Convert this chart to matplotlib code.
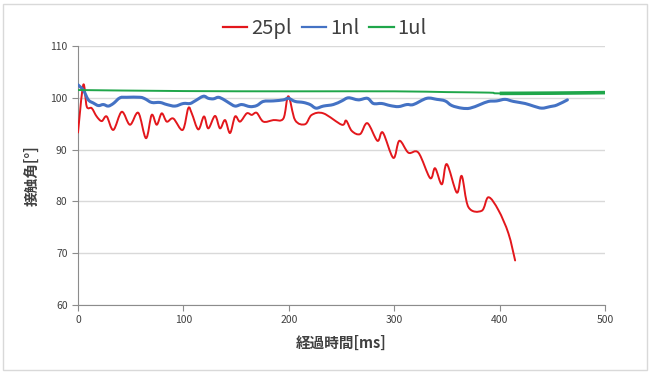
import numpy as np
import matplotlib
matplotlib.use('Agg')
import matplotlib.pyplot as plt
from matplotlib.path import Path
from matplotlib.patches import PathPatch
from matplotlib.lines import Line2D

plt.rcParams['font.family'] = ['Noto Sans CJK JP', 'DejaVu Sans']

# 25pl (red)
t_25pl = [0, 5, 8.3, 13, 17.7, 22.5, 27.2, 33.5, 41.5, 49.3, 57.2, 64.5, 69.9, 74.7,
          79.4, 84.2, 90.4, 99.3, 104.6, 107.9, 114.1, 119.5, 123.6, 130, 134.7, 139.5,
          144.2, 149, 153.7, 160.1, 164.8, 169.5, 175.8, 185.3, 194.8, 199.5, 205.9,
          215.4, 221.7, 232.7, 250.2, 254.3, 259.7, 267.6, 274.5, 284, 289.1, 299.1,
          304.8, 313.4, 322.9, 334, 338.7, 345.1, 349.8, 359.3, 364, 370.3, 383, 389.3,
          398.8, 408.3, 414.6]
v_25pl = [93.3, 102.5, 98.3, 98.0, 96.4, 95.5, 96.4, 93.8, 97.3, 94.8, 97.1, 92.2, 96.7, 94.8,
          97.0, 95.4, 96.0, 93.8, 98.0, 97.0, 93.9, 96.4, 94.1, 96.5, 94.1, 95.7,
          93.2, 96.4, 95.4, 97.0, 96.7, 97.1, 95.4, 95.7, 96.0, 100.3, 95.7,
          94.9, 96.7, 97.0, 94.8, 95.6, 93.6, 93.0, 95.1, 91.7, 93.3, 88.4,
          91.7, 89.4, 89.4, 84.5, 86.4, 83.3, 87.2, 81.7, 84.9, 78.9, 78.2, 80.8,
          78.3, 73.8, 68.6]

# 1nl (blue)
t_1nl = [0, 5, 9.8, 14.5, 19.3, 24, 28.7, 33.5, 39.8, 46.2, 58.8, 63.6, 69.9, 77.8, 84.2,
         92, 99.9, 106.3, 111, 118.9, 123.6, 128.4, 133.1, 137.9, 142.6, 149, 155.3,
         163.2, 169.5, 175.8, 185.3, 194.8, 199.5, 205.9, 213.8, 220.1, 225.8, 232.7,
         242.2, 250.2, 256.5, 265.9, 274.5, 280.2, 288.1, 296, 303.9, 311.9, 318.1,
         330.8, 340.3, 348.2, 354.6, 364, 371.9, 381.4, 389.3, 397.2, 405.1, 413,
         424.1, 432, 439.9, 447.8, 454.2, 464.2]
v_1nl = [102.5, 101.5, 99.6, 99.0, 98.5, 98.7, 98.4, 98.9, 100.0, 100.1, 100.1, 99.8, 99.1, 99.1, 98.7,
         98.4, 98.9, 98.9, 99.4, 100.3, 99.9, 99.8, 100.1, 99.7, 99.1, 98.4, 98.7,
         98.3, 98.5, 99.3, 99.4, 99.6, 99.9, 99.3, 99.1, 98.7, 98.0, 98.4,
         98.7, 99.4, 100.0, 99.6, 99.9, 98.9, 98.9, 98.5, 98.3, 98.7, 98.7,
         99.9, 99.7, 99.4, 98.5, 98.0, 98.0, 98.7, 99.3, 99.4, 99.7, 99.3,
         98.9, 98.4, 98.0, 98.3, 98.6, 99.6]

# 1ul (green)
t_1ul = [0, 100, 200, 300, 350, 390, 400, 450, 500]
v_1ul = [101.5, 101.3, 101.25, 101.25, 101.1, 101.0, 100.85, 100.9, 101.0]

x_ticks = [0, 100, 200, 300, 400, 500]
y_ticks = [60, 70, 80, 90, 100, 110]

red = '#E3171C'
blue = '#4472C4'
green = '#1FA64A'


def smooth_path(x, y):
    # excel style smoothed line: bezier segments through every point
    p = np.column_stack([x, y]).astype(float)
    verts = [p[0]]
    codes = [Path.MOVETO]
    n = len(p)
    for i in range(n - 1):
        p0 = p[i - 1] if i > 0 else p[i]
        p3 = p[i + 2] if i + 2 < n else p[i + 1]
        c1 = p[i] + (p[i + 1] - p0) / 6.0
        c2 = p[i + 1] - (p3 - p[i]) / 6.0
        verts += [c1, c2, p[i + 1]]
        codes += [Path.CURVE4] * 3
    return Path(verts, codes)


fig = plt.figure(figsize=(6.5, 3.74), dpi=100)
ax = fig.add_axes([0.12, 0.1845, 0.811, 0.6925])

ax.add_patch(PathPatch(smooth_path(t_25pl, v_25pl), fill=False, edgecolor=red, lw=1.4,
                       capstyle='round', joinstyle='round', zorder=3))
ax.add_patch(PathPatch(smooth_path(t_1nl, v_1nl), fill=False, edgecolor=blue, lw=2.2,
                       capstyle='round', joinstyle='round', zorder=3))
ax.add_patch(PathPatch(smooth_path(t_1ul, v_1ul), fill=False, edgecolor=green, lw=1.4,
                       zorder=4))
t_g = np.array(t_1ul)
v_g = np.array(v_1ul)
ax.add_patch(PathPatch(smooth_path(t_g[t_g >= 400], v_g[t_g >= 400]), fill=False,
                       edgecolor=green, lw=2.6, zorder=4))

ax.set_xlim(0, 500)
ax.set_ylim(60, 110)
ax.set_xticks(x_ticks)
ax.set_yticks(y_ticks)
ax.grid(axis='y', color='#D9D9D9', lw=1)
ax.set_axisbelow(True)
for s in ['top', 'right']:
    ax.spines[s].set_visible(False)
for s in ['left', 'bottom']:
    ax.spines[s].set_color('#8C8C8C')
ax.tick_params(colors='#8C8C8C', labelcolor='#404040', labelsize=7.5, length=4, direction='out')

ax.set_xlabel('経過時間[ms]', fontsize=10.5, fontweight='bold', color='#404040', labelpad=7)
ax.set_ylabel('接触角[°]', fontsize=10.5, fontweight='bold', color='#404040', labelpad=8)

handles = [Line2D([], [], color=red, lw=1.6), Line2D([], [], color=blue, lw=1.6),
           Line2D([], [], color=green, lw=1.6)]
fig.legend(handles, ['25pl', '1nl', '1ul'], loc='upper center', bbox_to_anchor=(0.5, 1.0),
           ncol=3, frameon=False, fontsize=14.5, handlelength=1.2, handletextpad=0.2,
           columnspacing=0.5, labelcolor='#404040')

fig.patches.append(plt.Rectangle((0.005, 0.01), 0.99, 0.98, transform=fig.transFigure,
                                 fill=False, edgecolor='#D9D9D9', lw=1))

fig.savefig('out.png', dpi=100)
